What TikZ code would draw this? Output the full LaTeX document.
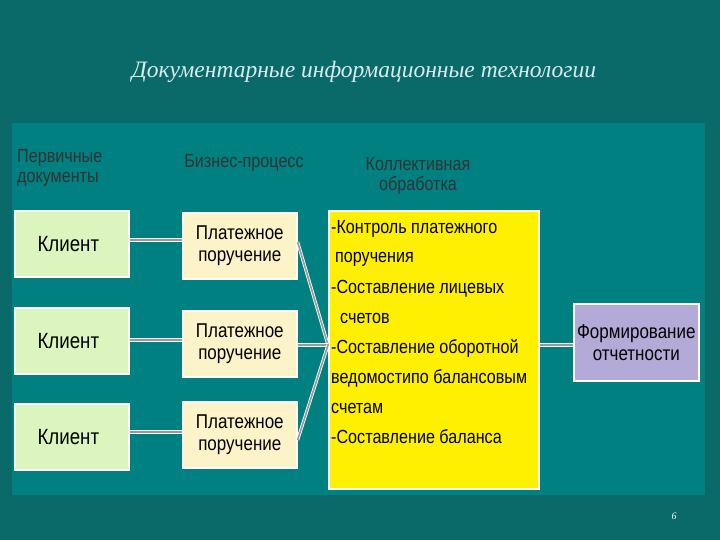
\documentclass[tikz,border=0pt]{standalone}
\usepackage{fontspec}
\setmainfont{Liberation Sans}
\newfontfamily\cond[FakeStretch=0.85]{Liberation Sans}
\newfontfamily\titlefont{Liberation Serif}
\begin{document}
\begin{tikzpicture}[x=1pt,y=-1pt,
  box/.style={draw=white,line width=1.6pt,inner sep=0pt,anchor=north west},
  lbl/.style={font=\cond\fontsize{20}{22}\selectfont,text=black,align=center},
  hdr/.style={font=\cond\fontsize{19}{20}\selectfont,text=black!80,align=left},
  yl/.style={font=\cond\fontsize{19}{20}\selectfont,anchor=west,inner sep=0pt},
  conn/.style={draw=white,double=gray!80,double distance=1.6pt,line width=0.8pt}]
\fill[fill={rgb,255:red,10;green,105;blue,105}] (0,0) rectangle (720,540);
\useasboundingbox (0,0) rectangle (720,540);
\node[font=\titlefont\itshape\fontsize{23.5}{26}\selectfont,text=white!85!teal] (title) at (364,72) {Документарные информационные технологии};
\fill[fill={rgb,255:red,0;green,128;blue,128}] (12,123) rectangle (705,495);
\node[font=\titlefont\itshape\fontsize{10}{12}\selectfont,text=white] (pg) at (674,516) {6};
% headers
\node[hdr,anchor=west,inner sep=0pt] (h1) at (17,168) {Первичные\\документы};
\node[hdr] (h2) at (244,163) {Бизнес-процесс};
\node[hdr,align=center] (h3) at (418,176) {Коллективная\\обработка};
% boxes
\foreach \i/\y in {1/210,2/307,3/403}{
  \node[box,fill={rgb,255:red,220;green,245;blue,190},minimum width=114pt,minimum height=66pt] (k\i) at (14,\y) {};
  \node[lbl,anchor=west,font=\cond\fontsize{22}{24}\selectfont] at ([xshift=20pt]k\i.west) {Клиент};
}
\foreach \i/\y in {1/212,2/310,3/401}{
  \node[box,fill={rgb,255:red,252;green,244;blue,200},minimum width=114pt,minimum height=66pt,lbl] (p\i) at (182,\y) {Платежное\\поручение};
}
\node[box,fill={rgb,255:red,255;green,240;blue,0},minimum width=210pt,minimum height=278pt] (y) at (328,210) {};
\node[box,fill={rgb,255:red,180;green,170;blue,215},minimum width=125pt,minimum height=77pt,lbl] (f) at (573,303) {Формирование\\отчетности};
% yellow text
\node[yl] (t1) at (331,229) {-Контроль платежного};
\node[yl] (t2) at (335,259) {поручения};
\node[yl] (t3) at (331,289) {-Составление лицевых};
\node[yl] (t4) at (340,318) {счетов};
\node[yl] (t5) at (331,348) {-Составление оборотной};
\node[yl] (t6) at (331,378) {ведомостипо балансовым};
\node[yl] (t7) at (331,408) {счетам};
\node[yl] (t8) at (331,437) {-Составление баланса};
% connectors
\coordinate (m) at (328,345);
\draw[conn] (k1.east |- 0,240) -- (p1.west |- 0,240);
\draw[conn] (k2.east |- 0,340) -- (p2.west |- 0,340);
\draw[conn] (k3.east |- 0,432) -- (p3.west |- 0,432);
\draw[conn] (p1.east |- 0,242) -- (m);
\draw[conn] (p2.east |- 0,345) -- (m);
\draw[conn] (p3.east |- 0,440) -- (m);
\draw[conn] (y.east |- 0,345) -- (f.west |- 0,345);
\end{tikzpicture}
\end{document}
